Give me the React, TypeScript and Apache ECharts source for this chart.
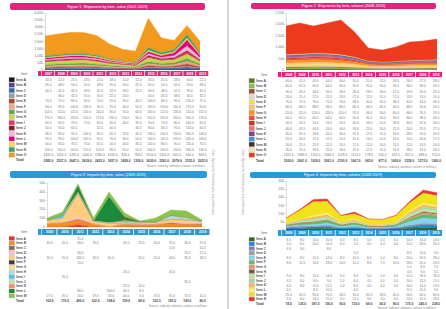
import React, { useEffect, useRef } from "react";
import * as echarts from "echarts";

// ---------- DATA ----------
const tlCategories = ["2007", "2008", "2009", "2010", "2011", "2012", "2013", "2014", "2015", "2016", "2017", "2018", "2019"];
const tlNames = ["Item A", "Item B", "Item C", "Item D", "Item E", "Item F", "Item G", "Item H", "Item I", "Item J", "Item K", "Item L", "Item M", "Item N", "Item O"];
const tlValues = [
  [20, 22, 25, 28, 22, 18, 15, 12, 30, 25, 28, 40, 22],
  [45, 48, 50, 55, 48, 35, 30, 25, 65, 50, 55, 90, 48],
  [40, 42, 45, 48, 42, 32, 28, 22, 60, 48, 52, 85, 45],
  [0, 30, 32, 35, 30, 22, 20, 0, 45, 35, 38, 60, 32],
  [70, 75, 80, 85, 70, 55, 45, 40, 100, 80, 90, 150, 75],
  [90, 95, 100, 105, 90, 70, 60, 50, 130, 100, 110, 170, 90],
  [110, 115, 125, 130, 110, 85, 70, 60, 160, 125, 135, 210, 115],
  [170, 180, 195, 210, 175, 130, 110, 90, 250, 190, 200, 300, 170],
  [60, 65, 70, 75, 60, 45, 40, 35, 90, 70, 80, 140, 65],
  [50, 55, 60, 0, 55, 40, 0, 30, 80, 60, 70, 110, 60],
  [80, 85, 95, 100, 85, 65, 55, 45, 130, 100, 150, 330, 140],
  [90, 95, 100, 105, 90, 70, 60, 50, 140, 110, 190, 420, 160],
  [60, 65, 70, 75, 65, 50, 40, 35, 100, 80, 90, 120, 70],
  [100, 105, 110, 115, 100, 80, 65, 55, 200, 140, 150, 260, 130],
  [1400, 1450, 1490, 1460, 1380, 1030, 820, 760, 2050, 1050, 640, 640, 800],
];
const tlColors = ["#1a1a1a", "#5b3f99", "#2f6db5", "#9e9e9e", "#b5432a", "#f2a58c", "#6aa84f", "#c6d94a", "#e8336d", "#8b1a2b", "#f7b6d2", "#e4007f", "#ffd84d", "#38a36b", "#f39a1e"];

const trCategories = ["2008", "2009", "2010", "2011", "2012", "2013", "2014", "2015", "2016", "2017", "2018", "2019"];
const trNames = ["Item A", "Item B", "Item C", "Item D", "Item E", "Item F", "Item G", "Item H", "Item I", "Item J", "Item K", "Item L", "Item M", "Item N", "Item O"];
const trValues = [
  [40, 42, 45, 44, 40, 35, 25, 22, 24, 26, 27, 28],
  [60, 62, 65, 64, 60, 50, 35, 30, 33, 36, 38, 40],
  [30, 32, 34, 33, 30, 26, 18, 16, 17, 19, 20, 21],
  [20, 21, 22, 22, 20, 17, 12, 11, 12, 13, 13, 14],
  [70, 72, 76, 75, 70, 58, 40, 35, 38, 42, 44, 46],
  [80, 84, 88, 86, 80, 66, 46, 40, 44, 48, 50, 53],
  [110, 115, 120, 118, 110, 92, 64, 56, 60, 66, 70, 74],
  [60, 62, 65, 64, 60, 50, 35, 30, 33, 36, 38, 40],
  [50, 52, 54, 53, 50, 42, 29, 25, 28, 30, 32, 34],
  [40, 42, 44, 43, 40, 33, 23, 20, 22, 24, 25, 27],
  [30, 31, 33, 32, 30, 25, 17, 15, 16, 18, 19, 20],
  [25, 26, 27, 27, 25, 21, 14, 12, 13, 15, 16, 17],
  [20, 21, 22, 22, 20, 17, 12, 10, 11, 12, 13, 14],
  [30, 31, 33, 32, 30, 25, 17, 15, 16, 18, 19, 20],
  [1265, 1368, 1202, 1346, 1528, 1110, 578, 540, 642, 825, 848, 912],
];
const trColors = ["#5a7d2a", "#8bc34a", "#a0522d", "#d9d9d9", "#f4e04d", "#fbc48a", "#f7941d", "#e8543a", "#c0392b", "#f26d7d", "#7f3f98", "#4a90d9", "#333333", "#ffe0b2", "#ec3b1c"];

const blCategories = ["2009", "2010", "2011", "2012", "2013", "2014", "2015", "2016", "2017", "2018", "2019"];
const blNames = ["Item A", "Item B", "Item C", "Item D", "Item E", "Item F", "Item G", "Item H", "Item I", "Item J", "Item K", "Item L", "Item M"];
const blValues = [
  [0, 0, 25, 0, 0, 0, 0, 0, 0, 0, 0],
  [40, 45, 60, 35, 0, 30, 25, 30, 35, 30, 25],
  [0, 0, 0, 0, 0, 0, 0, 0, 12, 0, 10],
  [0, 0, 30, 0, 0, 0, 0, 0, 0, 15, 12],
  [35, 55, 260, 30, 45, 0, 20, 25, 40, 35, 18],
  [0, 0, 15, 0, 0, 0, 0, 0, 0, 0, 0],
  [0, 0, 0, 0, 0, 0, 0, 0, 0, 0, 0],
  [0, 0, 0, 0, 0, 20, 0, 0, 45, 0, 0],
  [0, 35, 0, 0, 0, 0, 0, 0, 0, 0, 0],
  [0, 0, 0, 0, 0, 0, 0, 0, 0, 30, 0],
  [0, 0, 0, 0, 0, 25, 10, 0, 0, 0, 0],
  [0, 0, 80, 0, 300, 40, 8, 0, 0, 0, 0],
  [27, 35, 20, 37, 53, 44, 5, 47, 61, 72, 15],
];
const blColors = ["#e53935", "#f28c28", "#8d6e63", "#f8bbd0", "#ffcc80", "#3c3c3c", "#ffe082", "#b2dfdb", "#4fc3f7", "#c5e1a5", "#ff8a65", "#1b8a3a", "#8bc34a"];

const brCategories = ["2008", "2009", "2010", "2011", "2012", "2013", "2014", "2015", "2016", "2017", "2018", "2019"];
const brNames = ["Item A", "Item B", "Item C", "Item D", "Item E", "Item F", "Item G", "Item H", "Item I", "Item J", "Item K", "Item L", "Item M", "Item N"];
const brValues = [
  [6, 8, 10, 10, 6, 8, 5, 5, 6, 10, 14, 13],
  [5, 8, 10, 10, 6, 7, 4, 4, 6, 12, 18, 16],
  [4, 6, 0, 8, 0, 0, 0, 0, 0, 0, 0, 0],
  [0, 0, 0, 0, 0, 5, 0, 0, 0, 8, 10, 9],
  [6, 8, 12, 14, 8, 10, 6, 5, 8, 20, 30, 28],
  [8, 12, 16, 18, 10, 12, 8, 7, 10, 18, 25, 23],
  [0, 0, 0, 0, 0, 0, 0, 0, 0, 5, 8, 7],
  [0, 0, 0, 0, 0, 0, 0, 0, 0, 4, 6, 5],
  [5, 8, 12, 14, 6, 8, 5, 5, 6, 12, 18, 16],
  [4, 6, 8, 9, 5, 6, 4, 4, 5, 10, 12, 11],
  [4, 8, 12, 12, 5, 8, 4, 4, 5, 10, 14, 13],
  [4, 0, 8, 10, 0, 4, 0, 0, 0, 6, 10, 9],
  [25, 55, 85, 70, 40, 30, 30, 28, 40, 50, 60, 60],
  [3, 6, 14, 15, 4, 12, 3, 3, 4, 10, 20, 18],
];
const brColors = ["#33691e", "#1e88e5", "#8e7cc3", "#9e9e9e", "#81d4fa", "#66bb6a", "#ff8a65", "#795548", "#c5e1a5", "#a5d6a7", "#ffb74d", "#fff176", "#f2e21a", "#e53935"];

const titles = [
  "Figure 1  Shipments by item, value (2007-2019)",
  "Figure 2  Shipments by item, volume (2008-2019)",
  "Figure 3  Imports by item, value (2009-2019)",
  "Figure 4  Imports by item, volume (2008-2019)",
];

// ---------- LAYOUT ----------
type Callout = { s: number; i: number; bg: string; fg: string; d: number };
type Panel = {
  title: string;
  accent: string;
  titleBox: [number, number, number, number];
  plot: [number, number, number, number];
  yMax: number;
  yStep: number;
  categories: string[];
  names: string[];
  colors: string[];
  values: number[][];
  headerY: number;
  headerH: number;
  headerX: number;
  cellW: number;
  tableTop: number;
  tableBottom: number;
  swatchX: number;
  noteX: number;
  noteY: number;
  callouts: Callout[];
  side?: { x: number; y: number };
};

const PINK = "#e5237d";
const BLUE = "#2a9ad6";
const FONT = "Liberation Sans, Arial, sans-serif";

const panels: Panel[] = [
  {
    title: titles[0], accent: PINK, titleBox: [10, 3, 195, 7], plot: [45, 13, 155, 57],
    yMax: 4000, yStep: 500, categories: tlCategories, names: tlNames, colors: tlColors, values: tlValues,
    headerY: 71, headerH: 5, headerX: 38, cellW: 12.85, tableTop: 77, tableBottom: 163, swatchX: 9,
    noteX: 205, noteY: 166,
    callouts: [
      { s: 14, i: 3, bg: "#222", fg: "#fff", d: 5 },
      { s: 14, i: 8, bg: "#222", fg: "#fff", d: 8 },
      { s: 13, i: 8, bg: "#1b6e3a", fg: "#fff", d: 2 },
      { s: 13, i: 11, bg: "#1b6e3a", fg: "#fff", d: 2 },
      { s: 11, i: 11, bg: "#ffffff", fg: "#e4007f", d: 3 },
    ],
  },
  {
    title: titles[1], accent: PINK, titleBox: [251, 3, 185, 6], plot: [286, 13, 151, 57],
    yMax: 2500, yStep: 500, categories: trCategories, names: trNames, colors: trColors, values: trValues,
    headerY: 72, headerH: 5, headerX: 278, cellW: 13.4, tableTop: 78, tableBottom: 163, swatchX: 249,
    noteX: 436, noteY: 167,
    callouts: [{ s: 6, i: 2, bg: "#111", fg: "#fff", d: 1 }],
  },
  {
    title: titles[2], accent: BLUE, titleBox: [10, 171, 197, 7], plot: [47, 183, 155, 44],
    yMax: 500, yStep: 100, categories: blCategories, names: blNames, colors: blColors, values: blValues,
    headerY: 229, headerH: 6, headerX: 38, cellW: 15.3, tableTop: 236, tableBottom: 303, swatchX: 9,
    noteX: 207, noteY: 306,
    callouts: [
      { s: 4, i: 2, bg: "#e53935", fg: "#fff", d: 8 },
      { s: 11, i: 4, bg: "#ffffff", fg: "#1b8a3a", d: 1 },
    ],
    side: { x: 213, y: 215 },
  },
  {
    title: titles[3], accent: BLUE, titleBox: [250, 172, 186, 6], plot: [286, 181, 151, 49],
    yMax: 300, yStep: 50, categories: brCategories, names: brNames, colors: brColors, values: brValues,
    headerY: 230, headerH: 6, headerX: 278, cellW: 13.4, tableTop: 237, tableBottom: 306, swatchX: 249,
    noteX: 436, noteY: 308,
    callouts: [
      { s: 13, i: 3, bg: "#e53935", fg: "#fff", d: 4 },
      { s: 13, i: 10, bg: "#e53935", fg: "#fff", d: 0 },
    ],
    side: { x: 243, y: 215 },
  },
];

const fmt = (v: number) => (v ? v.toFixed(1) : "");

function buildOption() {
  const grid: any[] = [];
  const xAxis: any[] = [];
  const yAxis: any[] = [];
  const series: any[] = [];
  const elements: any[] = [];

  elements.push({
    type: "line",
    shape: { x1: 228, y1: 0, x2: 228, y2: 309 },
    style: { stroke: "#c8c8c8", lineWidth: 1.5 },
  });

  panels.forEach((p, g) => {
    const [px, py, pw, ph] = p.plot;
    grid.push({ left: px, top: py, width: pw, height: ph });
    xAxis.push({
      type: "category", gridIndex: g, data: p.categories, boundaryGap: false,
      axisLine: { show: false }, axisTick: { show: false }, axisLabel: { show: false },
    });
    yAxis.push({
      type: "value", gridIndex: g, min: 0, max: p.yMax, interval: p.yStep,
      axisLine: { show: true, lineStyle: { color: "#bbb", width: 0.5 } },
      axisTick: { show: true, length: 1.5, lineStyle: { color: "#bbb", width: 0.5 } },
      splitLine: { show: false },
      axisLabel: { fontSize: 3.4, color: "#777", margin: 2, fontFamily: FONT },
    });
    p.values.forEach((vals, s) => {
      const c = p.colors[s];
      series.push({
        type: "line", xAxisIndex: g, yAxisIndex: g, stack: "st" + g, name: p.names[s],
        symbol: "none", silent: true,
        lineStyle: { width: 0.4, color: c },
        areaStyle: { color: c, opacity: 1 },
        itemStyle: { color: c },
        data: vals.map((v, i) => {
          const co = p.callouts.find((k) => k.s === s && k.i === i);
          if (!co) return v;
          return {
            value: v,
            label: {
              show: true, position: "bottom", distance: co.d, formatter: fmt(v),
              fontSize: 3.4, color: co.fg, backgroundColor: co.bg, padding: [0.6, 1.5],
              fontFamily: FONT, fontWeight: "bold",
            },
          };
        }),
      });
    });

    // title bar
    const [tx, ty, tw, th] = p.titleBox;
    elements.push({ type: "rect", shape: { x: tx, y: ty, width: tw, height: th, r: 2 }, style: { fill: p.accent } });
    elements.push({
      type: "text", x: tx + tw / 2, y: ty + th / 2,
      style: { text: p.title, fill: "#ffffff", fontSize: 3.8, fontFamily: FONT, align: "center", verticalAlign: "middle" },
    });

    // header row
    elements.push({ type: "rect", shape: { x: p.headerX, y: p.headerY, width: 3.4, height: p.headerH }, style: { fill: p.accent } });
    const cx0 = p.headerX + 4;
    p.categories.forEach((c, j) => {
      elements.push({
        type: "rect",
        shape: { x: cx0 + j * p.cellW, y: p.headerY, width: p.cellW - 0.8, height: p.headerH },
        style: { fill: p.accent },
      });
      elements.push({
        type: "text", x: cx0 + (j + 0.5) * p.cellW, y: p.headerY + p.headerH / 2,
        style: { text: c, fill: "#fff", fontSize: 3.2, fontFamily: FONT, align: "center", verticalAlign: "middle", fontWeight: "bold" },
      });
    });
    elements.push({
      type: "text", x: p.swatchX + 12, y: p.headerY + p.headerH / 2,
      style: { text: "Item", fill: "#666", fontSize: 3.2, fontFamily: FONT, align: "left", verticalAlign: "middle" },
    });

    // table rows
    const nRows = p.values.length + 1;
    const rowH = (p.tableBottom - p.tableTop) / nRows;
    p.values.forEach((vals, s) => {
      const yc = p.tableTop + (s + 0.5) * rowH;
      elements.push({
        type: "rect",
        shape: { x: p.swatchX, y: yc - rowH * 0.42, width: 5.5, height: rowH * 0.84 },
        style: { fill: p.colors[s], stroke: "#888", lineWidth: 0.2 },
      });
      elements.push({
        type: "text", x: p.swatchX + 7, y: yc,
        style: { text: p.names[s], fill: "#555", fontSize: 3.3, fontFamily: FONT, align: "left", verticalAlign: "middle", fontWeight: "bold" },
      });
      vals.forEach((v, j) => {
        const t = fmt(v);
        if (!t) return;
        elements.push({
          type: "text", x: cx0 + (j + 0.5) * p.cellW, y: yc,
          style: { text: t, fill: "#777", fontSize: 3.2, fontFamily: FONT, align: "center", verticalAlign: "middle" },
        });
      });
    });
    // total row
    const yt = p.tableTop + (nRows - 0.5) * rowH;
    elements.push({
      type: "text", x: p.swatchX + 7, y: yt,
      style: { text: "Total", fill: "#333", fontSize: 3.3, fontFamily: FONT, align: "left", verticalAlign: "middle", fontWeight: "bold" },
    });
    p.categories.forEach((_, j) => {
      const sum = p.values.reduce((a, row) => a + row[j], 0);
      elements.push({
        type: "text", x: cx0 + (j + 0.5) * p.cellW, y: yt,
        style: { text: fmt(sum), fill: "#444", fontSize: 3.2, fontFamily: FONT, align: "center", verticalAlign: "middle", fontWeight: "bold" },
      });
    });
    // note
    elements.push({
      type: "text", x: p.noteX, y: p.noteY,
      style: { text: "Source: industry statistics, values in millions", fill: "#888", fontSize: 3, fontFamily: FONT, align: "right", verticalAlign: "middle" },
    });
    if (p.side) {
      elements.push({
        type: "text", x: p.side.x, y: p.side.y, rotation: -Math.PI / 2,
        style: { text: "Note: figures for the latest year are preliminary", fill: "#999", fontSize: 3.2, fontFamily: FONT, align: "right", verticalAlign: "middle" },
      });
    }
  });

  return {
    animation: false,
    backgroundColor: "#ffffff",
    grid, xAxis, yAxis, series,
    graphic: { elements },
  };
}

export default function App() {
  const ref = useRef<HTMLDivElement>(null);
  useEffect(() => {
    if (!ref.current) return;
    const chart = echarts.init(ref.current, undefined, { renderer: "svg" });
    chart.setOption(buildOption() as any);
    return () => chart.dispose();
  }, []);
  return (
    <div
      ref={ref}
      style={{ position: "fixed", left: 0, top: 0, width: 446, height: 309, background: "#fff" }}
    />
  );
}
